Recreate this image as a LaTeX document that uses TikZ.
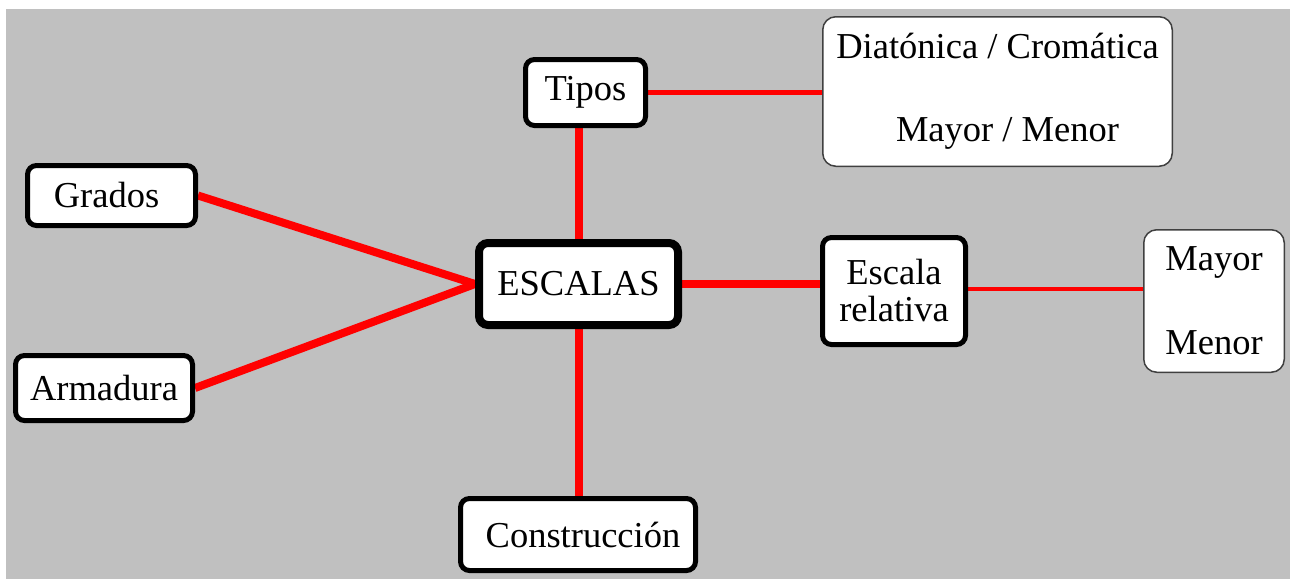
\documentclass[tikz,border=0pt]{standalone}
\usepackage{fontspec}
\setmainfont{Liberation Serif}
\pgfdeclarelayer{bg}
\pgfsetlayers{bg,main}
\definecolor{bggray}{HTML}{C0C0C0}
\definecolor{linkred}{HTML}{FF0000}
\definecolor{thinborder}{HTML}{404040}
\tikzset{
  box/.style={draw=black, fill=white, rounded corners=9pt, inner sep=0pt,
    line width=5pt, font=\fontsize{36.5}{37}\selectfont, align=center},
  mainbox/.style={box, line width=8pt},
  softbox/.style={box, draw=thinborder, line width=1.5pt, rounded corners=13pt},
  thicklink/.style={draw=linkred, line width=8pt},
  thinlink/.style={draw=linkred, line width=4.5pt},
}
\begin{document}
\begin{tikzpicture}[x=1pt,y=-1pt]
\useasboundingbox (0,0) rectangle (1290,579);
\node[mainbox, minimum width=199pt, minimum height=82pt] (esc) at (578.5,284) {ESCALAS};
\node[box, minimum width=120pt, minimum height=66pt] (tipos) at (585.5,92.5) {Tipos};
\node[box, minimum width=168pt, minimum height=60pt] (grados) at (111.5,195.5) {Grados\hspace*{10pt}};
\node[box, minimum width=177pt, minimum height=65pt] (arm) at (104,388) {Armadura};
\node[box, minimum width=143pt, minimum height=107pt] (rel) at (894,291) {Escala\\relativa};
\node[box, minimum width=235pt, minimum height=72pt] (cons) at (578,534.5) {\hspace*{10pt}Construcción};
\node[softbox, minimum width=349.5pt, minimum height=149.5pt,
      font=\fontsize{36.5}{83}\selectfont] (diat) at (997.5,91.5)
  {Diatónica / Cromática\\\hspace*{20pt}Mayor / Menor};
\node[softbox, minimum width=140.5pt, minimum height=142.5pt,
      font=\fontsize{36.5}{84}\selectfont] (mm) at (1214,301) {Mayor\\Menor};
\begin{pgfonlayer}{bg}
  \fill[bggray] (6,9) rectangle (1290,579);
  \draw[thicklink] (esc.north) -- (esc.north |- tipos.south);
  \draw[thinlink] (tipos.east) -- (tipos.east -| diat.west);
  \draw[thicklink] (grados.east) -- (esc.west);
  \draw[thicklink] (arm.east) -- (esc.west);
  \draw[thicklink] (esc.east) -- (esc.east -| rel.west);
  \draw[thinlink] ([yshift=2pt]rel.east) -- ([yshift=2pt]rel.east -| mm.west);
  \draw[thicklink] (esc.south) -- (esc.south |- cons.north);
\end{pgfonlayer}
\end{tikzpicture}
\end{document}
